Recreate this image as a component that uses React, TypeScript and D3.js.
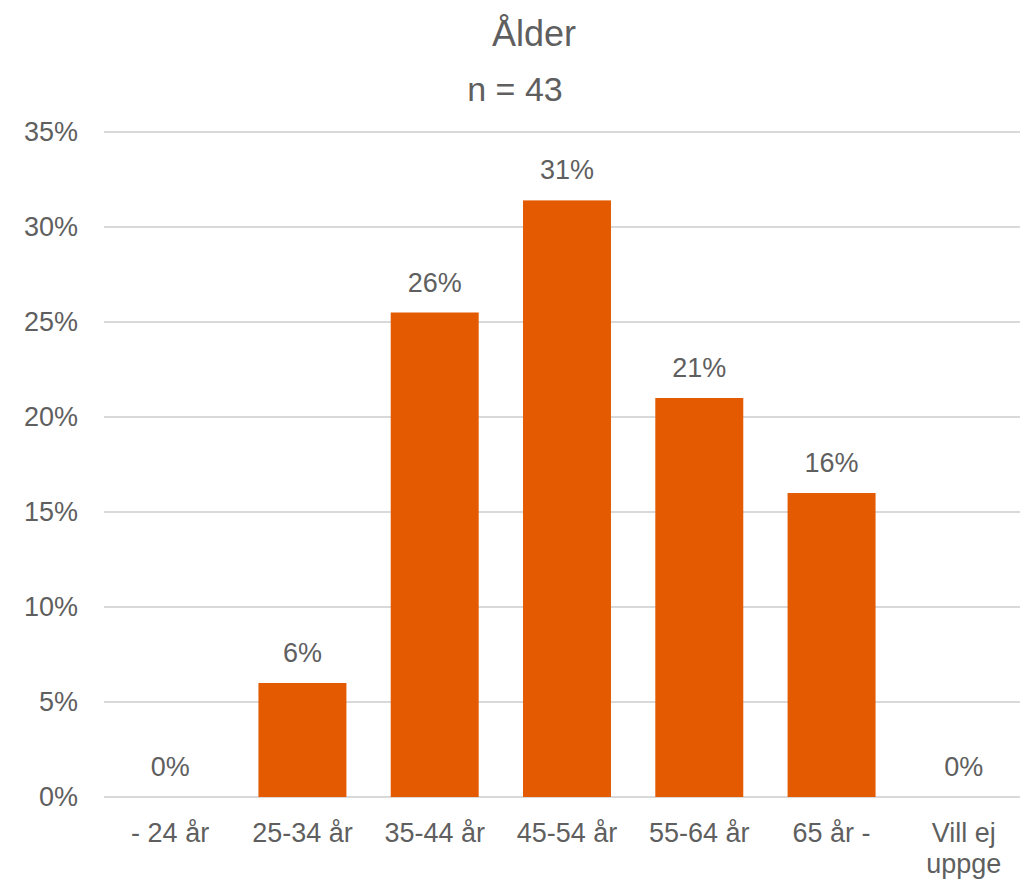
import React from "react";
import * as d3 from "d3";

const categories: string[][] = [["- 24 år"], ["25-34 år"], ["35-44 år"], ["45-54 år"], ["55-64 år"], ["65 år -"], ["Vill ej", "uppge"]];
const values: number[] = [0, 0.06, 0.255, 0.314, 0.21, 0.16, 0];
const valueLabels: string[] = ["0%", "6%", "26%", "31%", "21%", "16%", "0%"];
const yTicks: number[] = [0, 0.05, 0.1, 0.15, 0.2, 0.25, 0.3, 0.35];
const title = "Ålder";
const subtitle = "n = 43";

const W = 1020;
const H = 885;
const FONT = "'Liberation Sans', Arial, sans-serif";
const GREY = "#5f5f5f";
const BAR = "#E35A00";

export default function App() {
  const keys = categories.map((c) => c.join(" "));
  const x = d3.scaleBand<string>().domain(keys).range([104, 1030]).padding(0);
  const y = d3.scaleLinear().domain([0, 0.35]).range([797, 132]);
  const barW = x.bandwidth() * 0.665;
  const fmt = d3.format(".0%");

  return (
    <svg width={W} height={H} style={{ position: "absolute", left: 0, top: 0, background: "#fff" }} fontFamily={FONT}>
      <rect x={0} y={0} width={W} height={H} fill="#fff" />
      <text x={534} y={46} textAnchor="middle" fontSize={36} fill={GREY}>{title}</text>
      <text x={515} y={101} textAnchor="middle" fontSize={34} fill={GREY}>{subtitle}</text>
      {yTicks.map((t) => (
        <g key={t}>
          <line x1={104} x2={W} y1={y(t)} y2={y(t)} stroke="#D9D9D9" strokeWidth={2} />
          <text x={78} y={y(t) + 9} textAnchor="end" fontSize={27} fill={GREY}>{fmt(t)}</text>
        </g>
      ))}
      {values.map((v, i) => {
        const cx = (x(keys[i]) as number) + x.bandwidth() / 2;
        return (
          <g key={keys[i]}>
            {v > 0 && (
              <rect x={cx - barW / 2} y={y(v)} width={barW} height={y(0) - y(v)} fill={BAR} />
            )}
            <text x={cx} y={y(v) - 21} textAnchor="middle" fontSize={27} fill={GREY}>{valueLabels[i]}</text>
            {categories[i].map((line, j) => (
              <text key={j} x={cx} y={842 + j * 31} textAnchor="middle" fontSize={27} fill={GREY}>{line}</text>
            ))}
          </g>
        );
      })}
    </svg>
  );
}
